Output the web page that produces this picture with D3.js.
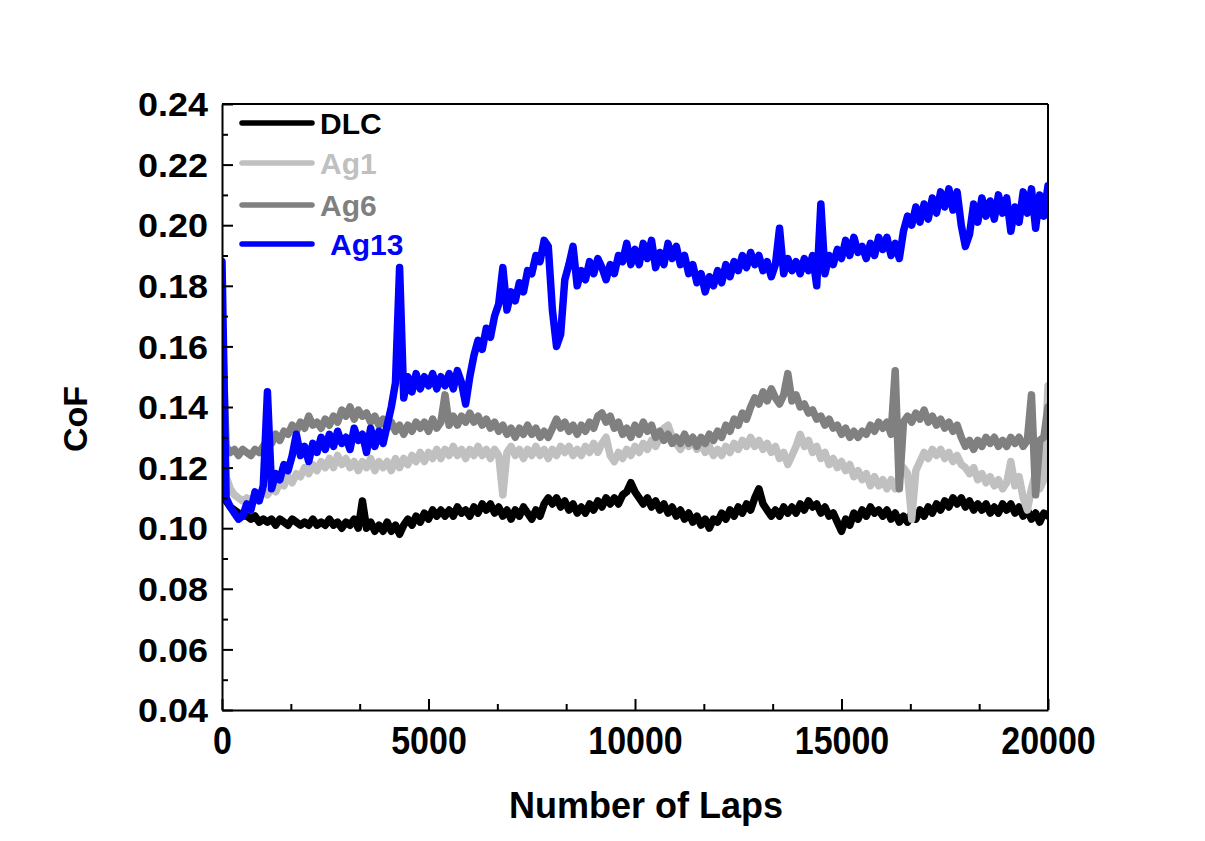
<!DOCTYPE html>
<html>
<head>
<meta charset="utf-8">
<script src="https://cdn.jsdelivr.net/npm/d3@7"></script>
<style>
  body { margin: 0; background: #fff; }
  text { font-family: "Liberation Sans", Arial, sans-serif; font-weight: bold; }
</style>
</head>
<body>
<div id="chart"></div>
<script>
const lapStep = 100;

const dlc = [
  0.114,0.109,0.107,0.106,0.105,0.104,0.104,0.103,0.104,0.102,
  0.103,0.102,0.103,0.101,0.103,0.102,0.101,0.103,0.102,0.101,
  0.102,0.101,0.103,0.101,0.102,0.101,0.103,0.101,0.102,0.100,
  0.102,0.101,0.103,0.100,0.109,0.100,0.102,0.099,0.101,0.099,
  0.102,0.099,0.101,0.098,0.101,0.103,0.101,0.104,0.102,0.105,
  0.103,0.106,0.104,0.106,0.104,0.106,0.104,0.107,0.105,0.106,
  0.104,0.107,0.105,0.108,0.106,0.108,0.105,0.107,0.104,0.106,
  0.103,0.106,0.104,0.107,0.105,0.103,0.106,0.104,0.108,0.110,
  0.108,0.110,0.107,0.109,0.106,0.108,0.105,0.107,0.105,0.108,
  0.106,0.109,0.107,0.110,0.108,0.110,0.108,0.111,0.112,0.115,
  0.112,0.110,0.108,0.110,0.107,0.109,0.106,0.108,0.105,0.107,
  0.104,0.106,0.103,0.105,0.102,0.104,0.101,0.103,0.100,0.103,
  0.102,0.105,0.103,0.106,0.104,0.107,0.105,0.108,0.106,0.110,
  0.113,0.108,0.106,0.104,0.106,0.104,0.107,0.105,0.107,0.105,
  0.108,0.106,0.109,0.107,0.108,0.105,0.107,0.104,0.105,0.102,
  0.099,0.103,0.101,0.105,0.103,0.106,0.104,0.107,0.105,0.106,
  0.104,0.106,0.103,0.105,0.102,0.104,0.102,0.105,0.103,0.106,
  0.104,0.107,0.105,0.108,0.106,0.109,0.107,0.110,0.108,0.110,
  0.107,0.109,0.106,0.108,0.106,0.108,0.105,0.107,0.105,0.108,
  0.106,0.108,0.105,0.107,0.104,0.106,0.103,0.105,0.102,0.105,
  0.104
];

const ag1 = [
  0.140,0.117,0.113,0.111,0.110,0.109,0.110,0.109,0.111,0.110,
  0.112,0.111,0.113,0.112,0.115,0.114,0.117,0.115,0.118,0.117,
  0.120,0.118,0.121,0.119,0.122,0.120,0.123,0.120,0.124,0.121,
  0.123,0.120,0.122,0.119,0.122,0.120,0.123,0.119,0.122,0.120,
  0.122,0.119,0.123,0.120,0.123,0.121,0.124,0.122,0.125,0.122,
  0.125,0.123,0.126,0.123,0.126,0.124,0.127,0.124,0.126,0.123,
  0.126,0.124,0.127,0.124,0.126,0.123,0.126,0.124,0.111,0.125,
  0.127,0.124,0.126,0.123,0.126,0.124,0.127,0.124,0.126,0.123,
  0.126,0.124,0.127,0.125,0.127,0.124,0.126,0.124,0.127,0.125,
  0.128,0.125,0.128,0.130,0.124,0.122,0.125,0.123,0.126,0.124,
  0.127,0.125,0.128,0.126,0.129,0.127,0.130,0.133,0.134,0.130,
  0.128,0.126,0.129,0.127,0.129,0.126,0.128,0.125,0.127,0.124,
  0.126,0.124,0.127,0.125,0.128,0.126,0.129,0.127,0.130,0.127,
  0.129,0.126,0.128,0.125,0.127,0.123,0.125,0.121,0.124,0.127,
  0.131,0.127,0.129,0.125,0.127,0.123,0.125,0.121,0.123,0.120,
  0.122,0.119,0.121,0.117,0.119,0.116,0.118,0.114,0.117,0.114,
  0.116,0.113,0.116,0.113,0.117,0.120,0.118,0.103,0.119,0.122,
  0.125,0.123,0.126,0.124,0.126,0.123,0.125,0.122,0.124,0.121,
  0.120,0.118,0.120,0.116,0.118,0.115,0.117,0.114,0.116,0.113,
  0.115,0.122,0.114,0.117,0.110,0.106,0.113,0.118,0.113,0.116,
  0.147
];

const ag6 = [
  0.168,0.127,0.125,0.126,0.124,0.126,0.125,0.124,0.126,0.125,
  0.127,0.129,0.128,0.131,0.129,0.132,0.131,0.134,0.132,0.135,
  0.133,0.137,0.134,0.135,0.133,0.136,0.134,0.137,0.135,0.139,
  0.137,0.140,0.136,0.139,0.137,0.138,0.135,0.137,0.134,0.136,
  0.133,0.135,0.132,0.134,0.131,0.134,0.132,0.135,0.133,0.135,
  0.132,0.136,0.133,0.135,0.144,0.134,0.137,0.134,0.137,0.135,
  0.138,0.135,0.137,0.134,0.136,0.133,0.135,0.132,0.134,0.131,
  0.133,0.130,0.133,0.131,0.134,0.131,0.133,0.130,0.132,0.130,
  0.133,0.136,0.133,0.135,0.132,0.134,0.131,0.134,0.132,0.135,
  0.133,0.137,0.138,0.135,0.137,0.133,0.135,0.131,0.133,0.130,
  0.134,0.131,0.135,0.132,0.134,0.130,0.132,0.129,0.131,0.128,
  0.130,0.128,0.131,0.128,0.130,0.127,0.130,0.128,0.131,0.129,
  0.132,0.130,0.134,0.132,0.136,0.134,0.138,0.136,0.140,0.143,
  0.141,0.145,0.142,0.146,0.143,0.141,0.144,0.151,0.142,0.144,
  0.140,0.141,0.138,0.139,0.136,0.137,0.134,0.136,0.133,0.134,
  0.131,0.133,0.130,0.132,0.130,0.132,0.131,0.134,0.132,0.135,
  0.133,0.135,0.131,0.152,0.113,0.135,0.137,0.135,0.138,0.136,
  0.139,0.135,0.137,0.134,0.136,0.133,0.135,0.132,0.134,0.130,
  0.127,0.129,0.126,0.129,0.127,0.130,0.128,0.130,0.127,0.129,
  0.127,0.130,0.128,0.130,0.127,0.129,0.144,0.111,0.129,0.130,
  0.140
];

const ag13 = [
  0.188,0.110,0.107,0.105,0.103,0.104,0.108,0.106,0.112,0.109,
  0.114,0.145,0.113,0.118,0.116,0.121,0.119,0.124,0.131,0.124,
  0.127,0.122,0.128,0.125,0.130,0.126,0.131,0.127,0.132,0.128,
  0.130,0.126,0.133,0.129,0.131,0.125,0.133,0.127,0.132,0.128,
  0.134,0.140,0.148,0.186,0.143,0.150,0.145,0.151,0.146,0.150,
  0.147,0.151,0.146,0.150,0.147,0.151,0.146,0.152,0.148,0.141,
  0.150,0.157,0.162,0.159,0.166,0.163,0.170,0.174,0.186,0.172,
  0.178,0.175,0.181,0.178,0.185,0.184,0.190,0.188,0.195,0.193,
  0.172,0.160,0.164,0.182,0.187,0.193,0.180,0.185,0.182,0.188,
  0.184,0.189,0.186,0.182,0.187,0.184,0.190,0.188,0.194,0.187,
  0.192,0.187,0.194,0.189,0.195,0.186,0.191,0.187,0.194,0.189,
  0.193,0.187,0.190,0.184,0.187,0.181,0.184,0.178,0.183,0.180,
  0.185,0.181,0.187,0.183,0.188,0.185,0.190,0.186,0.191,0.187,
  0.190,0.185,0.188,0.183,0.187,0.199,0.184,0.189,0.185,0.188,
  0.184,0.189,0.185,0.190,0.180,0.207,0.184,0.190,0.187,0.192,
  0.189,0.195,0.190,0.196,0.191,0.193,0.189,0.194,0.190,0.196,
  0.192,0.196,0.190,0.194,0.189,0.198,0.203,0.200,0.206,0.201,
  0.207,0.202,0.209,0.204,0.211,0.206,0.212,0.205,0.211,0.200,
  0.193,0.197,0.207,0.201,0.209,0.203,0.208,0.202,0.210,0.204,
  0.209,0.198,0.206,0.201,0.211,0.204,0.212,0.199,0.210,0.203,
  0.213
];

const seriesNames = ["DLC", "Ag1", "Ag6", "Ag13"];
const seriesValues = [dlc, ag1, ag6, ag13];
const seriesColors = ["#000000", "#c0c0c0", "#808080", "#0000ff"];

const xMajorTicks = [0, 5000, 10000, 15000, 20000];
const yMajorTicks = [0.04, 0.06, 0.08, 0.10, 0.12, 0.14, 0.16, 0.18, 0.20, 0.22, 0.24];

const W = 1205, H = 841;
const margin = {top: 104, right: 157, bottom: 131, left: 222};
const width = W - margin.left - margin.right;
const height = H - margin.top - margin.bottom;

const svg = d3.select("#chart").append("svg")
  .attr("width", W)
  .attr("height", H);

const g = svg.append("g")
  .attr("transform", `translate(${margin.left},${margin.top})`);

const x = d3.scaleLinear().domain([0, 20000]).range([0, width]);
const y = d3.scaleLinear().domain([0.04, 0.24]).range([height, 0]);

g.append("clipPath").attr("id", "plotclip")
  .append("rect").attr("width", width).attr("height", height);

// lines
const line = d3.line()
  .x((d, i) => x(i * lapStep))
  .y(d => y(d));

const plot = g.append("g").attr("clip-path", "url(#plotclip)");
seriesValues.forEach((vals, k) => {
  plot.append("path")
    .datum(vals)
    .attr("fill", "none")
    .attr("stroke", seriesColors[k])
    .attr("stroke-width", 7.5)
    .attr("stroke-linejoin", "round")
    .attr("stroke-linecap", "round")
    .attr("d", line);
});

// minor ticks
const xMinor = [];
for (let i = 0; i < xMajorTicks.length - 1; i++) {
  xMinor.push(xMajorTicks[i] + 5000 / 3, xMajorTicks[i] + 10000 / 3);
}
const yMinor = yMajorTicks.slice(0, -1).map(v => v + 0.01);

g.append("g")
  .attr("transform", `translate(0,${height})`)
  .call(d3.axisBottom(x).tickValues(xMinor).tickSize(-6).tickFormat(""))
  .call(a => a.select(".domain").remove())
  .selectAll("line").attr("stroke-width", 2);

g.append("g")
  .call(d3.axisLeft(y).tickValues(yMinor).tickSize(-6).tickFormat(""))
  .call(a => a.select(".domain").remove())
  .selectAll("line").attr("stroke-width", 2);

// major axes
const xAxis = g.append("g")
  .attr("transform", `translate(0,${height})`)
  .call(d3.axisBottom(x).tickValues(xMajorTicks).tickSize(-11).tickSizeOuter(0).tickFormat(d3.format("d")));
xAxis.selectAll("line").attr("stroke-width", 2);
xAxis.select(".domain").attr("stroke-width", 2);
xAxis.selectAll("text")
  .attr("y", 0)
  .attr("dy", null)
  .attr("transform", "translate(0,44) scale(1,1.15)")
  .style("font-size", "34px")
  .attr("fill", "#000");

const yAxis = g.append("g")
  .call(d3.axisLeft(y).tickValues(yMajorTicks).tickSize(-11).tickSizeOuter(0).tickFormat(d3.format(".2f")));
yAxis.selectAll("line").attr("stroke-width", 2);
yAxis.select(".domain").attr("stroke-width", 2);
yAxis.selectAll("text")
  .attr("x", 0)
  .attr("dy", "0.36em")
  .attr("transform", "translate(-14,0) scale(1,0.9)")
  .style("font-size", "36px")
  .attr("fill", "#000");

// top and right frame
g.append("line").attr("x1", 0).attr("x2", width).attr("y1", 0).attr("y2", 0)
  .attr("stroke", "#000").attr("stroke-width", 2);
g.append("line").attr("x1", width).attr("x2", width).attr("y1", 0).attr("y2", height)
  .attr("stroke", "#000").attr("stroke-width", 2);

// axis titles
svg.append("text")
  .attr("x", margin.left + width / 2 + 11)
  .attr("y", 818)
  .attr("text-anchor", "middle")
  .style("font-size", "36px")
  .text("Number of Laps");

svg.append("text")
  .attr("transform", "translate(87,419) rotate(-90)")
  .attr("text-anchor", "middle")
  .style("font-size", "34px")
  .text("CoF");

// legend
const legendY = [19, 59, 101, 140];
const legend = g.append("g");
seriesNames.forEach((name, k) => {
  legend.append("line")
    .attr("x1", 20).attr("x2", 90)
    .attr("y1", legendY[k]).attr("y2", legendY[k])
    .attr("stroke", seriesColors[k])
    .attr("stroke-width", 5.5)
    .attr("stroke-linecap", "round");
  legend.append("text")
    .attr("x", name === "Ag13" ? 108 : 98)
    .attr("y", legendY[k] + 11)
    .attr("fill", seriesColors[k])
    .style("font-size", "30px")
    .text(name);
});
</script>
</body>
</html>
